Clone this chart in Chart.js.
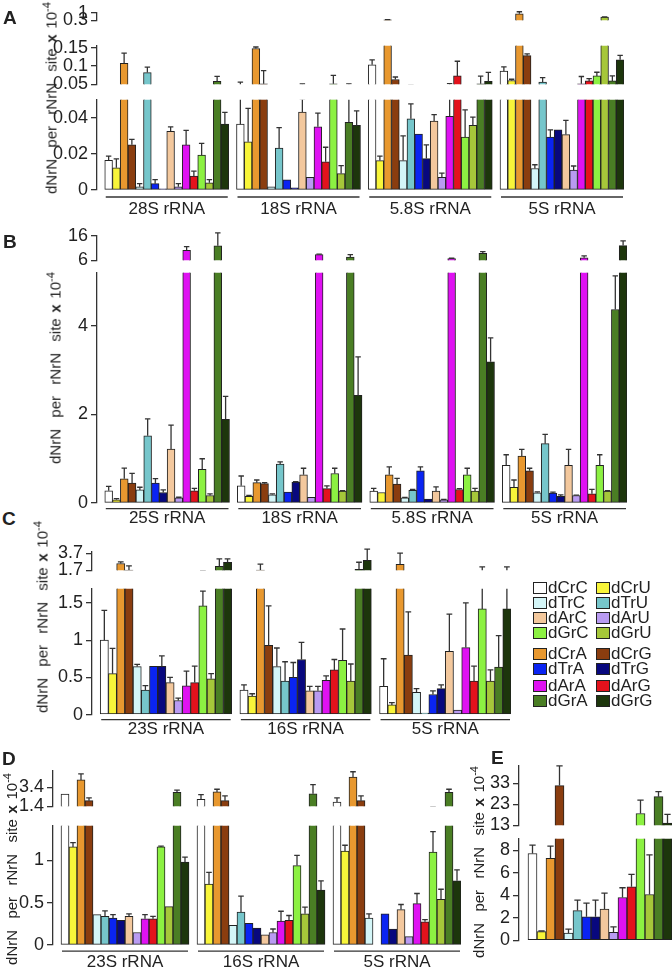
<!DOCTYPE html>
<html>
<head>
<meta charset="utf-8">
<script src="https://cdn.jsdelivr.net/npm/chart.js@4.4.1/dist/chart.umd.min.js"></script>
<style>
  body { margin: 0; background: #fff; }
  #fig { position: relative; width: 672px; height: 968px; overflow: hidden;
         font-family: "Liberation Sans", Arial, sans-serif; color: #222; }
  .seg { position: absolute; }
  .letter { position: absolute; font-weight: bold; font-size: 19px; line-height: 19px; }
  .ytitle { position: absolute; font-size: 15px; line-height: 15px; white-space: nowrap; word-spacing: 1.5px;
            transform: translate(-50%, -50%) rotate(-90deg); }
  .ytitle sup { font-size: 11px; }
  .leg { position: absolute; font-size: 17px; line-height: 17px; white-space: nowrap; }
  .leg i { position: absolute; left: 0; top: 3px; width: 12px; height: 10px; border: 1px solid #222; }
  .leg span { position: absolute; left: 15px; top: 0; }
</style>
</head>
<body>
<div id="fig"></div>
<script>
// series, in the order the bars appear inside every rRNA group
const series = ['dCrC','dCrU','dCrA','dCrG','dTrC','dTrU','dTrA','dTrG',
                'dArC','dArU','dArA','dArG','dGrC','dGrU','dGrA','dGrG'];
const seriesColors = ['#ffffff','#f8f53a','#e8982f','#8a3d0f','#d4f6f8','#76c6cb','#0a24f2','#08087e',
                      '#f3c89d','#b99bf2','#df12f2','#e3121c','#8cf142','#a6c73a','#4a7e24','#1d360c'];

// A: human rRNA (x 1e-4)
const aGroups = ['28S rRNA','18S rRNA','5.8S rRNA','5S rRNA'];
const a28S = [0.0165,0.0123,0.107,0.0251,0.0018,0.0818,0.0035,0.0007,0.0325,0.0018,0.025,0.0077,0.0193,0.004,0.0576,0.0365];
const a28SErr = [0.0023,0.0049,0.028,0.003,0.0017,0.015,0.0023,0,0.0025,0.0017,0.008,0.0028,0.0065,0.0018,0.014,0.0065];
const a18S = [0.0365,0.0267,0.1477,0.051,0.0018,0.0232,0.0056,0.0012,0.0432,0.007,0.035,0.0156,0.051,0.0091,0.0375,0.0358];
const a18SErr = [0.019,0.0186,0.004,0.036,0,0.0114,0,0,0.0073,0,0.0076,0.0081,0.023,0.0044,0.0135,0.0081];
const a58S = [0.103,0.0163,0.33,0.0629,0.0163,0.0395,0.031,0.0174,0.0382,0.007,0.0409,0.0727,0.0293,0.0358,0.051,0.0576];
const a58SErr = [0.0137,0.0025,0.012,0.0068,0.0137,0.0082,0,0.0076,0.0036,0.0023,0.0106,0.04,0.0151,0.0046,0.021,0.025];
const a5S = [0.0856,0.06,0.9,0.128,0.0119,0.056,0.0293,0.0333,0.0307,0.011,0.051,0.059,0.0727,0.59,0.059,0.1167];
const a5SErr = [0.012,0.0036,0.2,0.005,0.0021,0.012,0.004,0,0.0079,0.0023,0.02,0.006,0.01,0.03,0.014,0.012];

// B: yeast rRNA
const bGroups = ['25S rRNA','18S rRNA','5.8S rRNA','5S rRNA'];
const b25S = [0.274,0.074,0.548,0.45,0.296,1.52,0.45,0.237,1.22,0.118,10.06,0.274,0.76,0.17,11.9,1.89];
const b25SErr = [0.1,0.026,0.24,0.22,0.06,0.38,0.1,0.06,0.54,0.012,1.5,0.056,0.24,0.037,5.3,0.52];
const b18S = [0.39,0.148,0.46,0.437,0.185,0.88,0.244,0.474,0.637,0.126,8.3,0.326,0.667,0.267,7.25,2.43];
const b18SErr = [0.22,0.022,0.06,0.023,0.022,0.05,0,0.01,0.148,0,0.2,0.06,0.118,0.013,1.05,0.87];
const b58S = [0.267,0.237,0.637,0.43,0.118,0.289,0.726,0.089,0.267,0.074,6.7,0.304,0.637,0.267,8.8,3.19];
const b58SErr = [0.063,0,0.178,0.126,0.01,0.021,0.089,0,0.096,0.01,0.1,0.02,0.148,0.063,0.7,0.54];
const b5S = [0.85,0.356,1.06,0.726,0.23,1.34,0.222,0.148,0.85,0.17,7.0,0.207,0.85,0.267,4.37,12.0];
const b5SErr = [0.24,0.164,0.15,0.059,0.02,0.21,0.022,0.037,0.36,0.01,0.75,0.1,0.24,0.01,0.76,1.9];

// C: bacterial rRNA
const cGroups = ['23S rRNA','16S rRNA','5S rRNA'];
const c23S = [1.0,0.55,2.5,1.72,0.645,0.33,0.65,0.65,0.43,0.19,0.385,0.43,1.46,0.48,2.17,2.65];
const c23SErr = [0.4,0.34,0.2,0.5,0.03,0.06,0,0.14,0.07,0.03,0.2,0.22,0.2,0.07,0.88,0.4];
const c16S = [0.33,0.25,1.72,0.93,0.645,0.45,0.5,0.74,0.32,0.32,0.46,0.6,0.73,0.45,1.8,2.87];
const c16SErr = [0.07,0.03,0.7,0.53,0.25,0.26,0.2,0.23,0.06,0.06,0.06,0.14,0.42,0.23,0.85,1.35];
const c5S = [0.38,0.13,2.4,0.8,0.3,0.02,0.27,0.35,0.85,0.06,0.9,0.45,1.42,0.45,0.64,1.42];
const c5SErr = [0.37,0.03,1.35,0.58,0.05,0,0.05,0.05,0.5,0,0.6,0.2,0.67,0.15,0.42,0.67];

// D
const dGroups = ['23S rRNA','16S rRNA','5S rRNA'];
const d23S = [2.7,1.16,4.19,1.99,0.36,0.34,0.32,0.294,0.34,0.149,0.31,0.31,1.16,0.455,2.87,0.98];
const d23SErr = [0,0.05,0.64,0.29,0,0.065,0.04,0,0.03,0,0.05,0.03,0.01,0,0.23,0.06];
const d16S = [2.13,0.72,2.92,1.99,0.233,0.39,0.256,0.2,0.12,0.149,0.283,0.294,0.94,0.37,2.72,0.65];
const d16SErr = [0.49,0.14,0.28,0.51,0,0.19,0,0,0,0.041,0.117,0.056,0.12,0.08,0.97,0.11];
const d5S = [1.84,1.11,4.5,1.99,0.32,0,0.37,0.19,0.42,0.1,0.49,0.275,1.1,0.54,2.87,0.76];
const d5SErr = [0.44,0.07,0.56,0.51,0.05,0,0,0,0.06,0,0.12,0.025,0.24,0.12,0.33,0.13];

// E: single group
const eVals = [7.72,0.77,7.29,32.0,0.63,2.64,2.09,2.09,2.77,0.71,3.8,4.75,18.6,4.07,26.7,14.0];
const eErr = [0.75,0.05,1.09,9.5,0.36,0.93,1.21,1.48,1.43,0.47,0.87,1.11,6.4,3.52,2.4,4.2];

const FONT = '"Liberation Sans", Arial, sans-serif';
const fig = document.getElementById('fig');

// one leading empty slot, then 16 bars per group with an empty slot between groups
function buildSlots(vals, errs) {
  const labels = [''], data = [null], err = [0], colors = ['#fff'], spans = [];
  vals.forEach((g, gi) => {
    if (gi > 0) { labels.push(''); data.push(null); err.push(0); colors.push('#fff'); }
    const start = labels.length;
    g.forEach((v, i) => {
      labels.push(series[i]); data.push(v); err.push(errs[gi][i]); colors.push(seriesColors[i]);
    });
    spans.push([start, labels.length - 1]);
  });
  return { labels, data, err, colors, spans };
}

const errorBars = {
  id: 'errorBars',
  afterDatasetsDraw(chart, args, opts) {
    if (!opts.err) return;
    const { ctx, chartArea: a, scales: { x, y } } = chart;
    const w = Math.abs(x.getPixelForValue(1) - x.getPixelForValue(0));
    ctx.save();
    ctx.beginPath();
    ctx.rect(a.left, a.top - opts.over, a.right - a.left, a.bottom - a.top + opts.over);
    ctx.clip();
    ctx.strokeStyle = '#333';
    ctx.lineWidth = 1.3;
    opts.err.forEach((e, i) => {
      const v = opts.vals[i];
      if (v == null || !e) return;
      const cx = x.getPixelForValue(i);
      const y0 = y.getPixelForValue(v), y1 = y.getPixelForValue(v + e);
      ctx.beginPath();
      ctx.moveTo(cx, y0);
      ctx.lineTo(cx, y1);
      ctx.moveTo(cx - w * 0.35, y1);
      ctx.lineTo(cx + w * 0.35, y1);
      ctx.stroke();
    });
    ctx.restore();
  }
};

const groupLabels = {
  id: 'groupLabels',
  afterDraw(chart, args, opts) {
    if (!opts.spans) return;
    const { ctx, chartArea: a, scales: { x } } = chart;
    const w = Math.abs(x.getPixelForValue(1) - x.getPixelForValue(0));
    ctx.save();
    ctx.strokeStyle = '#333';
    ctx.lineWidth = 1.3;
    ctx.fillStyle = '#222';
    ctx.font = '17px ' + FONT;
    ctx.textAlign = 'center';
    ctx.textBaseline = 'middle';
    opts.spans.forEach(([s, e], i) => {
      const x0 = x.getPixelForValue(s) - w / 2 + 1, x1 = x.getPixelForValue(e) + w / 2 - 1;
      ctx.beginPath();
      ctx.moveTo(x0, a.bottom + opts.ul);
      ctx.lineTo(x1, a.bottom + opts.ul);
      ctx.stroke();
      ctx.fillText(opts.names[i], (x0 + x1) / 2, a.bottom + opts.txt);
    });
    ctx.restore();
  }
};
Chart.register(errorBars, groupLabels);

function addSegment(p, slots, s, names) {
  const padTop = 10;
  const padBottom = s.txt ? s.txt + 12 : 10;
  const left = p.axisX - p.axisW;
  const w = Math.round(p.right - left), h = Math.round(s.bottom - s.top + padTop + padBottom);
  const box = document.createElement('div');
  box.className = 'seg';
  box.style.left = left + 'px';
  box.style.top = (s.top - padTop) + 'px';
  const cv = document.createElement('canvas');
  cv.width = w; cv.height = h;
  cv.style.width = w + 'px'; cv.style.height = h + 'px';
  box.appendChild(cv);
  fig.appendChild(box);
  const shown = slots.data.map(v => (v == null || (s.min > 0 && v <= s.min)) ? null : v);
  new Chart(cv, {
    type: 'bar',
    data: {
      labels: slots.labels,
      datasets: [{
        data: shown,
        backgroundColor: slots.colors,
        borderColor: '#222',
        borderWidth: 1,
        borderSkipped: false,
        barPercentage: 1,
        categoryPercentage: 1,
        clip: 0
      }]
    },
    options: {
      responsive: false,
      animation: false,
      layout: { padding: { top: padTop, bottom: h - padTop - (s.bottom - s.top), left: 0, right: 0 } },
      plugins: {
        legend: { display: false },
        tooltip: { enabled: false },
        errorBars: { err: slots.err, vals: slots.data, over: s.over || 0 },
        groupLabels: s.txt ? { spans: slots.spans, names: names, ul: s.ul, txt: s.txt } : {}
      },
      scales: {
        x: { display: false, offset: true },
        y: {
          min: s.min, max: s.max,
          afterFit: sc => { sc.width = p.axisW; },
          afterBuildTicks: sc => { sc.ticks = s.ticks.map(v => ({ value: v })); },
          ticks: { autoSkip: false, padding: 3, color: '#222', font: { family: FONT, size: 18 },
                   callback: v => String(v) },
          grid: { drawOnChartArea: false, drawTicks: true, tickLength: 6, color: '#333', lineWidth: 1.3 },
          border: { display: true, color: '#333', width: 1.3 }
        }
      }
    }
  });
}

function addPanel(p) {
  const slots = buildSlots(p.vals, p.errs);
  p.segs.forEach(s => addSegment(p, slots, s, p.names));
  const L = document.createElement('div');
  L.className = 'letter';
  L.style.left = p.letter[1] + 'px';
  L.style.top = (p.letter[2] - 9) + 'px';
  L.textContent = p.letter[0];
  fig.appendChild(L);
  const T = document.createElement('div');
  T.className = 'ytitle';
  T.style.left = p.title[0] + 'px';
  T.style.top = p.title[1] + 'px';
  T.innerHTML = 'dNrN&nbsp; per &nbsp;rNrN &nbsp;site <b>x</b> 10<sup>-4</sup>';
  fig.appendChild(T);
}

addPanel({
  letter: ['A', 3, 17], title: [49, 98], axisX: 97, right: 624, axisW: 52,
  names: aGroups, vals: [a28S, a18S, a58S, a5S], errs: [a28SErr, a18SErr, a58SErr, a5SErr],
  segs: [
    { top: 96, bottom: 190, min: 0, max: 0.05, ticks: [0, 0.02, 0.04], ul: 7, txt: 19 },
    { top: 41.5, bottom: 87, min: 0.05, max: 0.155, ticks: [0.05, 0.1, 0.15] },
    { top: 9, bottom: 24, min: 0.3, max: 1, ticks: [0.3, 1], over: 8 }
  ]
});
addPanel({
  letter: ['B', 3, 241], title: [53, 368], axisX: 97, right: 627, axisW: 40,
  names: bGroups, vals: [b25S, b18S, b58S, b5S], errs: [b25SErr, b18SErr, b58SErr, b5SErr],
  segs: [
    { top: 268.7, bottom: 502.7, min: 0, max: 5.2, ticks: [0, 2, 4], ul: 5.6, txt: 15.3 },
    { top: 232, bottom: 264, min: 6, max: 16, ticks: [6, 16], over: 8 }
  ]
});
addPanel({
  letter: ['C', 2, 518], title: [40, 617], axisX: 91.7, right: 511, axisW: 42,
  names: cGroups, vals: [c23S, c16S, c5S], errs: [c23SErr, c16SErr, c5SErr],
  segs: [
    { top: 584.9, bottom: 714.5, min: 0, max: 1.69, ticks: [0, 0.5, 1, 1.5], ul: 5, txt: 14.5 },
    { top: 547.6, bottom: 574, min: 1.7, max: 3.9, ticks: [1.7, 3.7], over: 8 }
  ]
});
addPanel({
  letter: ['D', 2, 758], title: [9, 869], axisX: 53.3, right: 461.3, axisW: 38,
  names: dGroups, vals: [d23S, d16S, d5S], errs: [d23SErr, d16SErr, d5SErr],
  segs: [
    { top: 821.6, bottom: 944.7, min: 0, max: 1.41, ticks: [0, 0.5, 1], ul: 6, txt: 17 },
    { top: 767.3, bottom: 810, min: 1.4, max: 5.16, ticks: [1.4, 3.4], over: 8 }
  ]
});
addPanel({
  letter: ['E', 491, 757], title: [476, 862], axisX: 519.3, right: 672, axisW: 36,
  names: null, vals: [eVals], errs: [eErr],
  segs: [
    { top: 835, bottom: 944.3, min: 0, max: 9.03, ticks: [0, 2, 4, 6, 8] },
    { top: 761.6, bottom: 829, min: 13, max: 41.5, ticks: [13, 23, 33], over: 8 }
  ]
});

// legend of panel C: two blocks of two columns
const legendRows = [[0, 1], [4, 5], [8, 9], [12, 13], [2, 3], [6, 7], [10, 11], [14, 15]];
const legendY = [586.7, 601.7, 616.7, 631.7, 652.7, 668.3, 685, 700];
legendRows.forEach((pair, r) => {
  pair.forEach((si, c) => {
    const d = document.createElement('div');
    d.className = 'leg';
    d.style.left = (c ? 596 : 533) + 'px';
    d.style.top = (legendY[r] - 8) + 'px';
    d.innerHTML = '<i style="background:' + seriesColors[si] + '"></i><span>' + series[si] + '</span>';
    fig.appendChild(d);
  });
});
</script>
</body>
</html>
